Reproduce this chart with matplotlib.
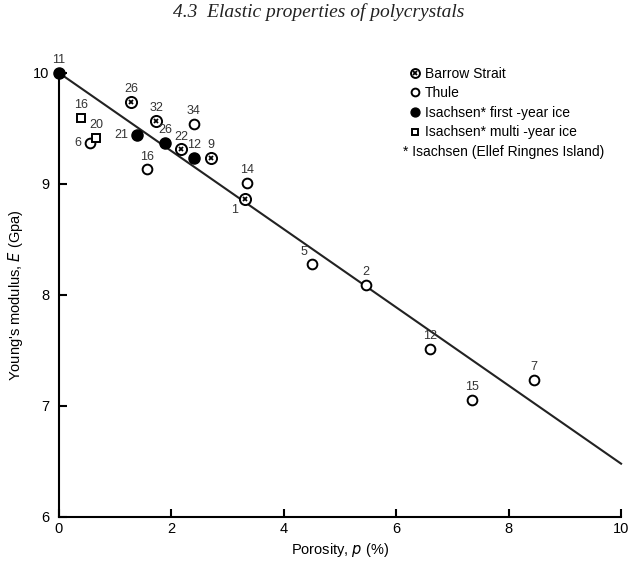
import matplotlib
matplotlib.use("Agg")
import matplotlib.pyplot as plt
from matplotlib.legend_handler import HandlerTuple

plt.rcParams['font.family'] = ['Liberation Sans', 'DejaVu Sans']

# Barrow Strait (crossed circles)
barrow_p = [1.28, 1.73, 2.17, 2.70, 3.31]
barrow_E = [9.74, 9.57, 9.31, 9.23, 8.86]
barrow_n = ['26', '32', '22', '9', '1']

# Thule (open circles)
thule_p = [0.55, 1.57, 2.40, 3.35, 4.50, 5.46, 6.60, 7.35, 8.45]
thule_E = [9.37, 9.13, 9.54, 9.01, 8.28, 8.09, 7.51, 7.05, 7.23]
thule_n = ['6', '16', '34', '14', '5', '2', '12', '15', '7']

# Isachsen first-year ice (filled circles)
first_p = [0.0, 1.39, 1.89, 2.40]
first_E = [10.0, 9.44, 9.37, 9.23]
first_n = ['11', '21', '26', '12']

# Isachsen multi-year ice (squares)
multi_p = [0.39, 0.66]
multi_E = [9.59, 9.41]
multi_n = ['16', '20']

# fitted line
fit_p = [0.0, 10.0]
fit_E = [10.0, 6.48]

left_labels = {('first', '21'), ('thule', '6'), ('barrow', '1'), ('thule', '5')}

fig = plt.figure(figsize=(6.37, 5.65), dpi=100)
ax = fig.add_axes([0.0926, 0.085, 0.8824, 0.786])

ax.plot(fit_p, fit_E, color='#222222', lw=1.5, zorder=1, clip_on=False)

ms = 7
h_thule, = ax.plot(thule_p, thule_E, 'o', ms=ms, mfc='white', mec='black', mew=1.4,
                   ls='none', zorder=3)
h_first, = ax.plot(first_p, first_E, 'o', ms=ms + 1, mfc='black', mec='black',
                   ls='none', zorder=3, clip_on=False)
h_multi, = ax.plot(multi_p, multi_E, 's', ms=ms - 1, mfc='white', mec='black', mew=1.4,
                   ls='none', zorder=3)
h_bo, = ax.plot(barrow_p, barrow_E, 'o', ms=ms + 1, mfc='white', mec='black', mew=1.4,
                ls='none', zorder=3)
h_bx, = ax.plot(barrow_p, barrow_E, 'x', ms=3.5, mec='black', mew=1.3,
                ls='none', zorder=4)


def annotate(name, ps, Es, ns):
    for p, E, n in zip(ps, Es, ns):
        if (name, n) in left_labels:
            if n == '1':
                off, ha, va = (-5, -3), 'right', 'top'
            elif n == '5':
                off, ha, va = (-3, 4), 'right', 'bottom'
            else:
                off, ha, va = (-6, 0), 'right', 'center'
        else:
            off, ha, va = (0, 5), 'center', 'bottom'
        ax.annotate(n, (p, E), xytext=off, textcoords='offset points',
                    ha=ha, va=va, fontsize=9, color='#333333')


annotate('barrow', barrow_p, barrow_E, barrow_n)
annotate('thule', thule_p, thule_E, thule_n)
annotate('first', first_p, first_E, first_n)
annotate('multi', multi_p, multi_E, multi_n)

leg = ax.legend([(h_bo, h_bx), h_thule, h_first, h_multi],
                ['Barrow Strait', 'Thule', 'Isachsen* first -year ice',
                 'Isachsen* multi -year ice'],
                handler_map={tuple: HandlerTuple(ndivide=1, pad=0)},
                loc='upper left', bbox_to_anchor=(0.604, 1.042), frameon=False,
                fontsize=10, handlelength=0.6, handletextpad=0.4,
                labelspacing=0.4, markerscale=0.8)
ax.text(0.612, 0.822, '* Isachsen (Ellef Ringnes Island)', transform=ax.transAxes,
        fontsize=10, ha='left', va='center')

ax.set_xlim(0, 10)
ax.set_ylim(6, 10)
ax.set_xticks([0, 2, 4, 6, 8, 10])
ax.set_yticks([6, 7, 8, 9, 10])
ax.spines['top'].set_visible(False)
ax.spines['right'].set_visible(False)
ax.spines['left'].set_linewidth(1.5)
ax.spines['bottom'].set_linewidth(1.5)
ax.tick_params(direction='in', length=6, width=1.5, labelsize=10.5)
ax.tick_params(axis='y', pad=7)

ax.set_xlabel(r'Porosity, $\it{p}$ (%)', fontsize=10.5, labelpad=4)
ax.set_ylabel(r"Young's modulus, $\it{E}$ (Gpa)", fontsize=10.5, labelpad=6)

fig.text(0.5, 0.978, '4.3  Elastic properties of polycrystals', ha='center', va='center',
         fontsize=14, family='Liberation Serif', style='italic', color='#222222')

fig.savefig('out.png', dpi=100)
